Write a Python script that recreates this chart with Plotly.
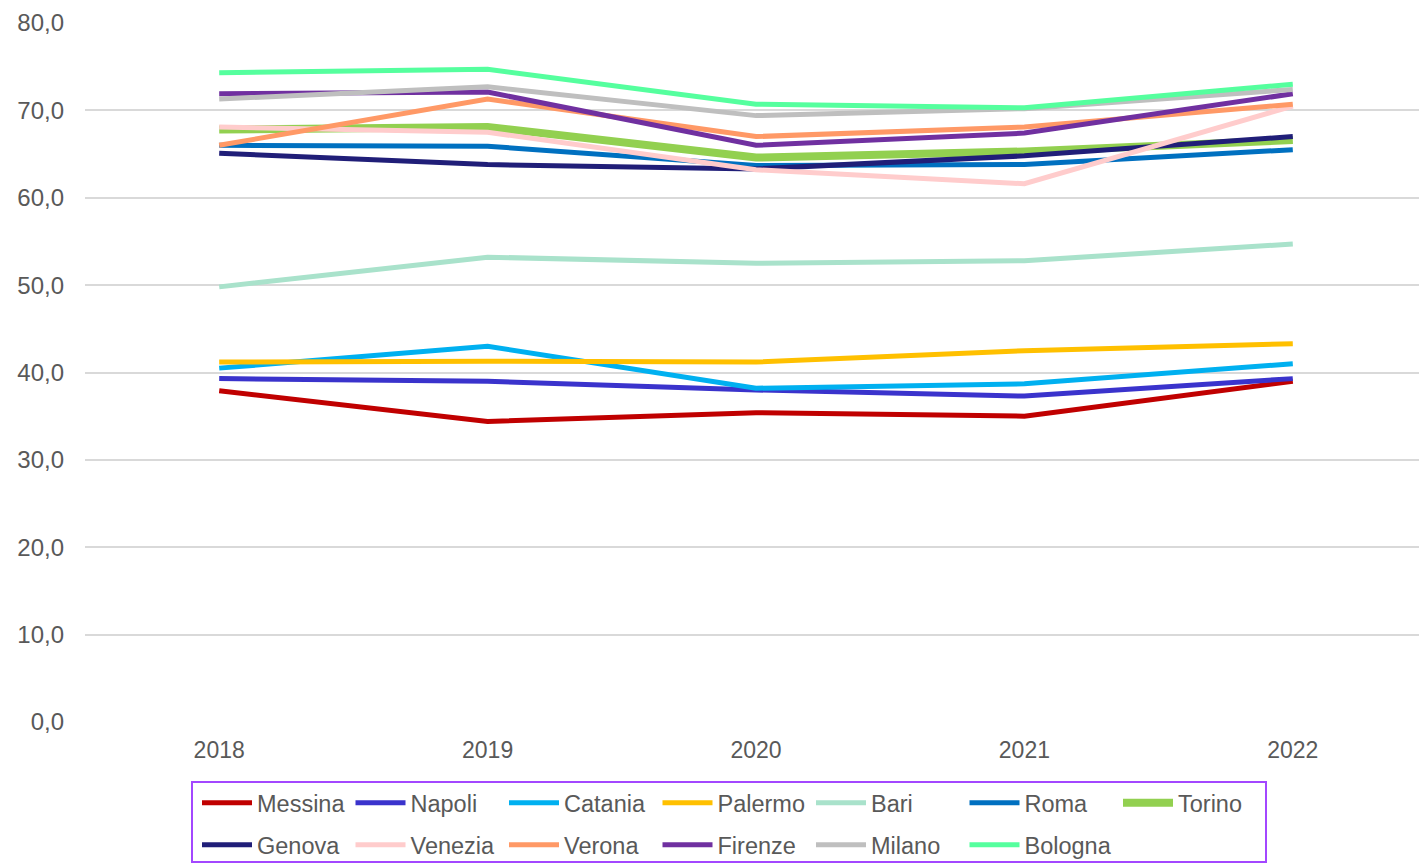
import plotly.graph_objects as go

years = ["2018", "2019", "2020", "2021", "2022"]

messina = [37.9, 34.4, 35.4, 35.0, 39.0]
napoli = [39.3, 39.0, 38.0, 37.3, 39.3]
catania = [40.5, 43.0, 38.2, 38.7, 41.0]
palermo = [41.2, 41.3, 41.2, 42.5, 43.3]
bari = [49.8, 53.2, 52.5, 52.8, 54.7]
roma = [66.0, 65.9, 63.7, 63.8, 65.5]
torino = [67.8, 68.1, 64.6, 65.3, 66.6]
genova = [65.1, 63.8, 63.3, 64.8, 67.0]
venezia = [68.1, 67.5, 63.2, 61.6, 70.5]
verona = [66.0, 71.3, 67.0, 68.1, 70.7]
firenze = [71.9, 72.1, 66.0, 67.4, 71.9]
milano = [71.3, 72.7, 69.4, 70.2, 72.4]
bologna = [74.3, 74.7, 70.7, 70.3, 73.0]

series = [
    ("Messina", messina, "#C00000", 5, "legend"),
    ("Napoli", napoli, "#3A33CC", 5, "legend"),
    ("Catania", catania, "#00B0F0", 5, "legend"),
    ("Palermo", palermo, "#FFC000", 5, "legend"),
    ("Bari", bari, "#A9E2CB", 5, "legend"),
    ("Roma", roma, "#0070C0", 5, "legend"),
    ("Torino", torino, "#92D050", 8, "legend"),
    ("Genova", genova, "#201E78", 5, "legend2"),
    ("Venezia", venezia, "#FFCCCC", 5, "legend2"),
    ("Verona", verona, "#FF9966", 5, "legend2"),
    ("Firenze", firenze, "#7030A0", 5, "legend2"),
    ("Milano", milano, "#BFBFBF", 5, "legend2"),
    ("Bologna", bologna, "#55FF9E", 5, "legend2"),
]

fig = go.Figure()
for name, vals, color, w, leg in series:
    fig.add_trace(go.Scatter(
        x=years, y=vals, name=name, mode="lines",
        line=dict(color=color, width=w), legend=leg,
    ))

# page body has an 8px margin: shift figure coordinates accordingly
OFF = 8
FW, FH = 1427 - OFF, 865 - OFF
L, T, PW, PH = 85 - OFF, 23 - OFF, 1342, 699


def px_x(p):
    return (p - OFF - L) / PW


def px_y(p):
    return (T + PH - (p - OFF)) / PH


leg_common = dict(
    orientation="h",
    xanchor="left",
    yanchor="middle",
    borderwidth=0,
    bgcolor="rgba(0,0,0,0)",
    font=dict(size=23.5, color="#595959", family="Liberation Sans, Arial, sans-serif"),
    entrywidth=88.5, entrywidthmode="pixels",
    itemwidth=50,
    traceorder="normal",
)

fig.update_layout(
    width=FW, height=FH,
    margin=dict(l=L, r=FW - L - PW, t=T, b=FH - T - PH, autoexpand=False),
    plot_bgcolor="white", paper_bgcolor="white",
    separators=",.",
    font=dict(family="Liberation Sans, Arial, sans-serif", color="#595959", size=24),
    showlegend=True,
    legend=dict(x=px_x(197), y=px_y(803), **leg_common),
    legend2=dict(x=px_x(197), y=px_y(845), **leg_common),
    xaxis=dict(
        type="category",
        showgrid=False, showline=False, zeroline=False,
        ticks="", tickfont=dict(size=23),
        ticklabelstandoff=12,
        range=[-0.5, 4.5],
    ),
    yaxis=dict(
        range=[0, 80], dtick=10, tickformat=".1f",
        showgrid=True, gridcolor="#D9D9D9", gridwidth=1.5,
        zeroline=False, showline=False, ticks="",
        ticklabelstandoff=20, tickfont=dict(size=24),
    ),
    shapes=[dict(
        type="rect", xref="paper", yref="paper",
        x0=px_x(192), x1=px_x(1266), y0=px_y(862), y1=px_y(782),
        line=dict(color="#A347FF", width=2), fillcolor="rgba(0,0,0,0)",
        layer="below",
    )],
)

fig.write_html("out.html")
